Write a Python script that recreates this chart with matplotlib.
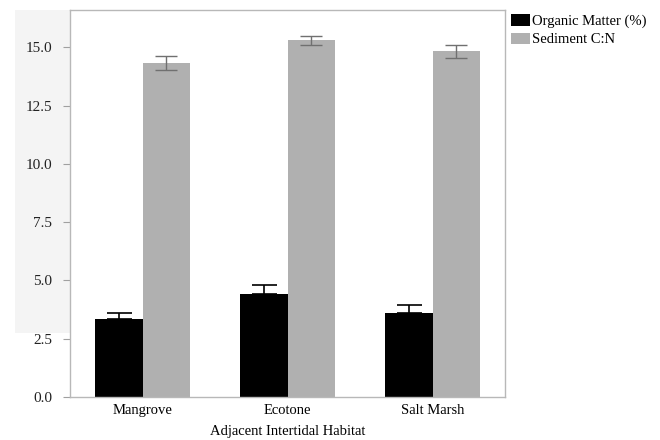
import matplotlib
matplotlib.use("Agg")
import matplotlib.pyplot as plt
from matplotlib.patches import Rectangle
import numpy as np

habitats = ["Mangrove", "Ecotone", "Salt Marsh"]
organic = [3.34, 4.42, 3.62]
organic_err = [0.28, 0.38, 0.32]
cn = [14.32, 15.30, 14.82]
cn_err = [0.30, 0.20, 0.30]

plt.rcParams['font.family'] = ['Liberation Serif', 'DejaVu Serif']
fs = 10.5

W, H = 660, 440
fig = plt.figure(figsize=(6.6, 4.4), dpi=100)

# faint grey panel behind the y labels
fig.patches.append(Rectangle((15 / W, 1 - 333 / H), 55 / W, 323 / H,
                             transform=fig.transFigure, facecolor='#f4f4f4',
                             edgecolor='none', zorder=-5))

ax = fig.add_axes([70 / W, 1 - 397 / H, 435 / W, 387 / H])
ax.set_zorder(2)
ax.set_facecolor('white')

x = np.arange(len(habitats))
w = 0.325
ax.bar(x - w / 2, organic, w, color='black', zorder=2, label='Organic Matter (%)')
ax.bar(x + w / 2, cn, w, color='#b0b0b0', zorder=2, label='Sediment C:N')
ax.errorbar(x - w / 2, organic, yerr=[np.zeros(3), organic_err], fmt='none',
            ecolor='black', elinewidth=1.2, capsize=9, capthick=1.2, zorder=3)
ax.errorbar(x + w / 2, cn, yerr=cn_err, fmt='none',
            ecolor='#707070', elinewidth=1.0, capsize=8, capthick=1.0, zorder=3)

ax.set_xlim(-0.5, 2.5)
ax.set_ylim(0, 16.6)
ax.set_yticks([0, 2.5, 5, 7.5, 10, 12.5, 15])
ax.set_yticklabels(['0.0', '2.5', '5.0', '7.5', '10.0', '12.5', '15.0'])
ax.set_xticks(x)
ax.set_xticklabels(habitats)
ax.tick_params(axis='x', length=0, labelsize=fs, pad=5)
ax.tick_params(axis='y', direction='out', length=5, color='#a0a0a0',
               labelsize=11, pad=8, labelcolor='#222222')
for s in ax.spines.values():
    s.set_color('#b8b8b8')
    s.set_linewidth(1.0)

ax.set_xlabel('Adjacent Intertidal Habitat', fontsize=fs, labelpad=6)

ax.legend(loc='upper left', bbox_to_anchor=(0.991, 1.015), frameon=False,
          fontsize=fs, handlelength=1.3, handleheight=0.8, handletextpad=0.1,
          labelspacing=0.3, borderaxespad=0.3)

fig.savefig('out.png', dpi=100)
